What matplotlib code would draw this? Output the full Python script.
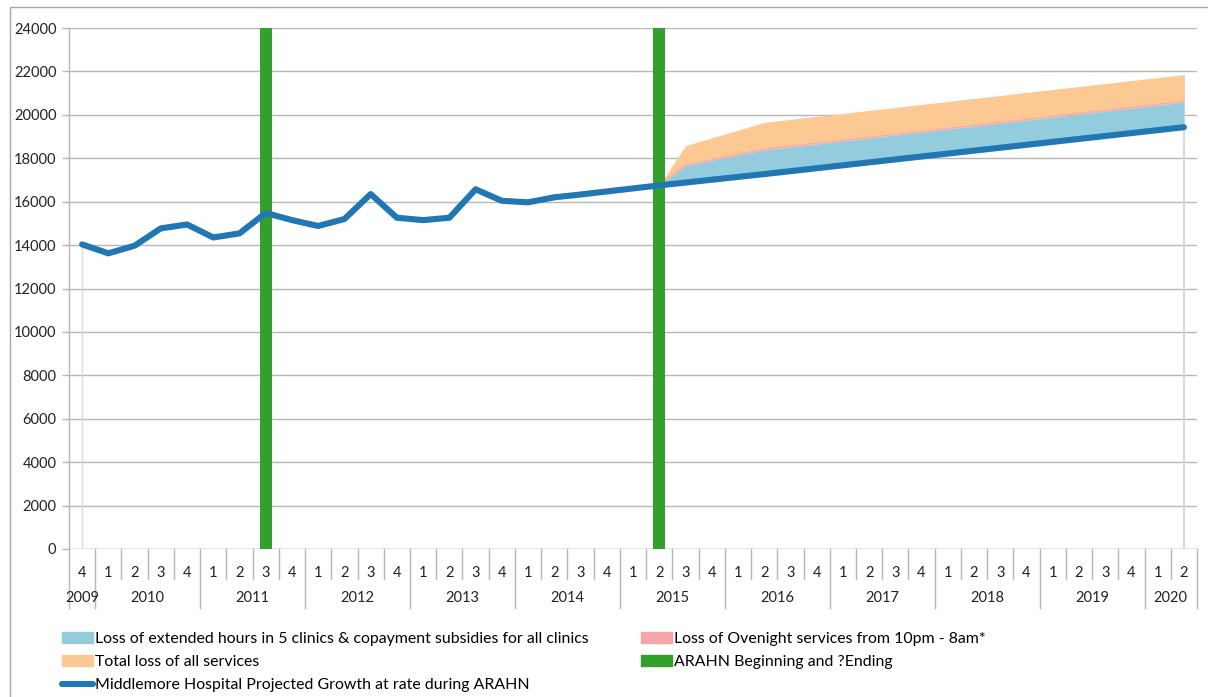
import matplotlib
matplotlib.use('Agg')
from matplotlib import pyplot as plt
from matplotlib.patches import Patch, Rectangle
from matplotlib.lines import Line2D
from matplotlib import transforms
import numpy as np

plt.rcParams['font.family'] = ['Lato', 'DejaVu Sans']

# quarter / year categories (2009 Q4 .. 2020 Q2)
years = ['2009', '2010', '2011', '2012', '2013', '2014',
         '2015', '2016', '2017', '2018', '2019', '2020']
quarters_per_year = [['4'], ['1', '2', '3', '4'], ['1', '2', '3', '4'],
                     ['1', '2', '3', '4'], ['1', '2', '3', '4'],
                     ['1', '2', '3', '4'], ['1', '2', '3', '4'],
                     ['1', '2', '3', '4'], ['1', '2', '3', '4'],
                     ['1', '2', '3', '4'], ['1', '2', '3', '4'], ['1', '2']]

# Middlemore Hospital (actual then projected)
hospital = [14030, 13620, 13970, 14770, 14950, 14350, 14540, 15480,
            15150, 14880, 15200, 16350, 15260, 15150, 15260, 16570,
            16040, 15970, 16200, 16330, 16470, 16610, 16750, 16880,
            17010, 17140, 17270, 17405, 17540, 17675, 17810, 17945,
            18080, 18215, 18350, 18485, 18620, 18755, 18890, 19025,
            19160, 19295, 19430]

# losses, starting 2015 Q2
loss_start = '2015 Q2'
loss_extended = [0, 770, 890, 1010, 1110, 1115, 1115, 1120, 1120, 1125,
                 1125, 1130, 1130, 1135, 1135, 1140, 1140, 1145, 1145,
                 1150, 1150]
loss_overnight = [0, 30, 30, 30, 30, 30, 30, 30, 30, 30, 30, 30, 30, 30,
                  30, 30, 30, 30, 30, 30, 30]
loss_total = [0, 1700, 1930, 2150, 2380, 2385, 2390, 2390, 2395, 2395,
              2400, 2400, 2405, 2405, 2410, 2410, 2415, 2415, 2420,
              2420, 2420]

arahn_at = ['2011 Q3', '2015 Q2']
arahn_height = 24000

labels = []
for yr, qs in zip(years, quarters_per_year):
    for q in qs:
        labels.append('{} Q{}'.format(yr, q))
x = np.arange(len(labels))
quarter_text = [lab.split('Q')[1] for lab in labels]

C_EXT = '#93cddd'
C_NIGHT = '#f4a6a6'
C_TOTAL = '#fcc995'
C_GREEN = '#33a02c'
C_LINE = '#2176b4'
C_GRID = '#b7b7b7'

fig = plt.figure(figsize=(12.08, 6.97), dpi=100)
W, H = 1208., 697.
ax = fig.add_axes([69 / W, 1 - 549 / H, (1197 - 69) / W, (549 - 28) / H])

# stacked loss areas on top of the projected line
i0 = labels.index(loss_start)
xs = x[i0:]
base = np.array(hospital[i0:], dtype=float)
ext_top = base + np.array(loss_extended)
night_top = ext_top + np.array(loss_overnight)
total_top = base + np.array(loss_total)
ax.fill_between(xs, base, ext_top, color=C_EXT, lw=0, zorder=2)
ax.fill_between(xs, ext_top, night_top, color=C_NIGHT, lw=0, zorder=2)
ax.fill_between(xs, night_top, total_top, color=C_TOTAL, lw=0, zorder=2)
ax.plot(xs, night_top, color=C_NIGHT, lw=0.8, zorder=2)

# faint edges at both ends of the category range
ax.vlines([x[0]], 0, hospital[0], color='#d9d9d9', lw=1, zorder=1.5)
ax.vlines([x[-1]], 0, total_top[-1], color='#d9d9d9', lw=1.5, zorder=1.5)

# ARAHN markers
bar_idx = [labels.index(a) for a in arahn_at]
ax.bar(bar_idx, [arahn_height] * len(bar_idx), width=0.47,
       color=C_GREEN, zorder=3)

ax.plot(x, hospital, color=C_LINE, lw=4.4, solid_capstyle='round',
        solid_joinstyle='round', zorder=4)

ax.set_xlim(-0.5, len(labels) - 0.5)
ax.set_ylim(0, 24000)
ax.set_yticks(np.arange(0, 24001, 2000))
ax.yaxis.grid(True, color=C_GRID, lw=1)
ax.set_axisbelow(True)
for s in ['top', 'right', 'bottom']:
    ax.spines[s].set_visible(False)
ax.spines['left'].set_color(C_GRID)
ax.spines['left'].set_linewidth(1)
ax.tick_params(axis='y', length=5, width=1, color=C_GRID, labelsize=10.5,
               labelcolor='#222222', pad=4)
ax.axhline(0, color=C_GRID, lw=1, zorder=1)

# two-level category axis
ax.set_xticks(x)
ax.set_xticklabels(quarter_text, fontsize=10.5, color='#222222')
ax.tick_params(axis='x', length=0, pad=12)
trans = transforms.blended_transform_factory(ax.transData, ax.transAxes)
ph = 549 - 28.
pos = -0.5
bounds_year = [pos]
year_mid = []
for qs in quarters_per_year:
    year_mid.append(pos + len(qs) / 2.)
    pos += len(qs)
    bounds_year.append(pos)
for b in np.arange(-0.5, len(labels)):
    low = -59 / ph if b in bounds_year else -30 / ph
    ax.plot([b, b], [0, low], transform=trans, color=C_GRID, lw=1,
            clip_on=False)
for yr, m in zip(years, year_mid):
    ax.text(m, -49 / ph, yr, transform=trans, ha='center', va='center',
            fontsize=10.5, color='#222222')

# outer chart border
fig.patches.append(Rectangle((10 / W, -0.01), 1.2, 1 - 7 / H + 0.01,
                             transform=fig.transFigure, fill=False,
                             edgecolor='#a6a6a6', lw=1))

handles = [Patch(color=C_EXT), Patch(color=C_TOTAL),
           Line2D([], [], color=C_LINE, lw=4.4, solid_capstyle='round'),
           Patch(color=C_NIGHT), Patch(color=C_GREEN)]
names = ['Loss of extended hours in 5 clinics & copayment subsidies for all clinics',
         'Total loss of all services',
         'Middlemore Hospital Projected Growth at rate during ARAHN',
         'Loss of Ovenight services from 10pm - 8am*',
         'ARAHN Beginning and ?Ending']
fig.legend(handles, names, ncol=2, loc='upper left',
           bbox_to_anchor=(62 / W, 1 - 632 / H), frameon=False,
           fontsize=11.4, handlelength=1.96, handleheight=0.65,
           handletextpad=0.13, labelspacing=0.58, columnspacing=3.3,
           borderaxespad=0, borderpad=0)

fig.savefig('out.png', dpi=100)
